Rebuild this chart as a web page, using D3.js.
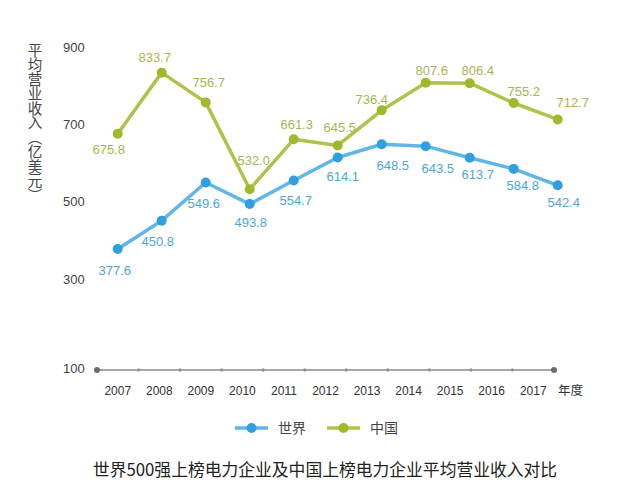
<!DOCTYPE html>
<html><head><meta charset="utf-8">
<script src="https://cdn.jsdelivr.net/npm/d3@7"></script>
<style>
html,body{margin:0;padding:0;background:#fff;}
svg{display:block;font-family:"Noto Sans CJK SC","Liberation Sans",Arial,sans-serif;}
</style></head>
<body>
<svg id="c" width="640" height="501"></svg>
<script>
const years = ["2007","2008","2009","2010","2011","2012","2013","2014","2015","2016","2017"];
const world = [377.6,450.8,549.6,493.8,554.7,614.1,648.5,643.5,613.7,584.8,542.4];
const china = [675.8,833.7,756.7,532.0,661.3,645.5,736.4,807.6,806.4,755.2,712.7];
const yTicks = [100,300,500,700,900];
const seriesNames = ["世界","中国"];
const yTitle = "平均营业收入（亿美元）";
const xTitle = "年度";
const chartTitle = "世界500强上榜电力企业及中国上榜电力企业平均营业收入对比";

// label offsets relative to each point (layout only)
const worldLabelOffset = [[-3,21],[-4,21],[-2,21],[1,18],[2,20],[5,19],[11,21],[12,22],[8,17],[9,17],[6,17]];
const chinaLabelOffset = [[-9,16],[-7,-15],[3,-20],[4,-29],[3,-15],[2,-18],[-10,-11],[6,-12],[8,-13],[10,-12],[15,-17]];

const blueLine = "#62b6e6", blueDot = "#2f9fde", blueText = "#4ea6da";
const greenLine = "#adc34a", greenDot = "#9db92c", greenText = "#a6b650";

const svg = d3.select("#c");
const axisY = 370;
const xBand = d3.scaleBand().domain(years).range([97, 554]).padding(0);
const xPt = d3.scalePoint().domain(years).range([117.7, 557.7]);
const y = d3.scaleLinear().domain([100, 300, 900]).range([axisY, 279, 47]);

// y tick labels
svg.append("g").selectAll("text").data(yTicks).join("text")
  .attr("x", 63).attr("y", d => (d === 100 ? axisY - 2 : y(d)))
  .attr("dy", "0.35em").attr("font-size", 13).attr("fill", "#444")
  .attr("font-family", "'Liberation Sans',Arial,sans-serif")
  .text(d => d);

// y title (vertical)
svg.append("text")
  .attr("x", 35).attr("y", 43)
  .attr("font-size", 14.5).attr("fill", "#444")
  .attr("font-family", "'Noto Sans CJK SC'")
  .style("writing-mode", "vertical-rl")
  .style("text-orientation", "mixed")
  .text(yTitle);

// x axis
const ax = svg.append("g");
ax.append("line").attr("x1", xBand.range()[0]).attr("x2", xBand.range()[1])
  .attr("y1", axisY).attr("y2", axisY).attr("stroke", "#8a8a8a").attr("stroke-width", 1.5);
ax.selectAll("rect.tk").data(years.slice(1)).join("rect").attr("class","tk")
  .attr("x", d => xBand(d) - 1).attr("y", axisY - 1.5).attr("width", 2).attr("height", 3)
  .attr("fill", "#888");
ax.selectAll("circle").data(xBand.range()).join("circle")
  .attr("cx", d => d).attr("cy", axisY).attr("r", 3).attr("fill", "#6d6d6d");
ax.selectAll("text.yr").data(years).join("text").attr("class","yr")
  .attr("x", d => xBand(d) + xBand.bandwidth()/2).attr("y", 391)
  .attr("dy", "0.35em").attr("text-anchor", "middle")
  .attr("font-size", 12).attr("fill", "#333")
  .attr("font-family", "'Liberation Sans',Arial,sans-serif")
  .text(d => d);
svg.append("text").attr("x", 558).attr("y", 391).attr("dy", "0.35em")
  .attr("font-size", 12.5).attr("fill", "#333").text(xTitle);

// series
const line = d3.line().x((d,i) => xPt(years[i])).y(d => y(d));
function drawSeries(vals, lc, dc, tc, offs) {
  const g = svg.append("g");
  g.append("path").datum(vals).attr("d", line).attr("fill", "none")
    .attr("stroke", lc).attr("stroke-width", 3.5).attr("stroke-linejoin", "round");
  g.selectAll("circle").data(vals).join("circle")
    .attr("cx", (d,i) => xPt(years[i])).attr("cy", d => y(d)).attr("r", 5).attr("fill", dc);
  g.selectAll("text").data(vals).join("text")
    .attr("x", (d,i) => xPt(years[i]) + offs[i][0]).attr("y", (d,i) => y(d) + offs[i][1])
    .attr("dy", "0.35em").attr("text-anchor", "middle")
    .attr("font-size", 13).attr("fill", tc)
    .attr("font-family", "'Liberation Sans',Arial,sans-serif")
    .text(d => d.toFixed(1));
}
drawSeries(china, greenLine, greenDot, greenText, chinaLabelOffset);
drawSeries(world, blueLine, blueDot, blueText, worldLabelOffset);

// legend
const legend = [
  {name: seriesNames[0], lc: blueLine, dc: blueDot, x: 235},
  {name: seriesNames[1], lc: greenLine, dc: greenDot, x: 327}
];
const lg = svg.append("g");
legend.forEach(l => {
  lg.append("line").attr("x1", l.x).attr("x2", l.x + 33).attr("y1", 428).attr("y2", 428)
    .attr("stroke", l.lc).attr("stroke-width", 3.5);
  lg.append("circle").attr("cx", l.x + 16.5).attr("cy", 428).attr("r", 5).attr("fill", l.dc);
  lg.append("text").attr("x", l.x + 43).attr("y", 428).attr("dy", "0.35em")
    .attr("font-size", 14).attr("fill", "#444").text(l.name);
});

// title
svg.append("text").attr("x", 325).attr("y", 470).attr("dy", "0.35em")
  .attr("text-anchor", "middle").attr("font-size", 16.8).attr("fill", "#222")
  .text(chartTitle);
</script>
</body></html>
